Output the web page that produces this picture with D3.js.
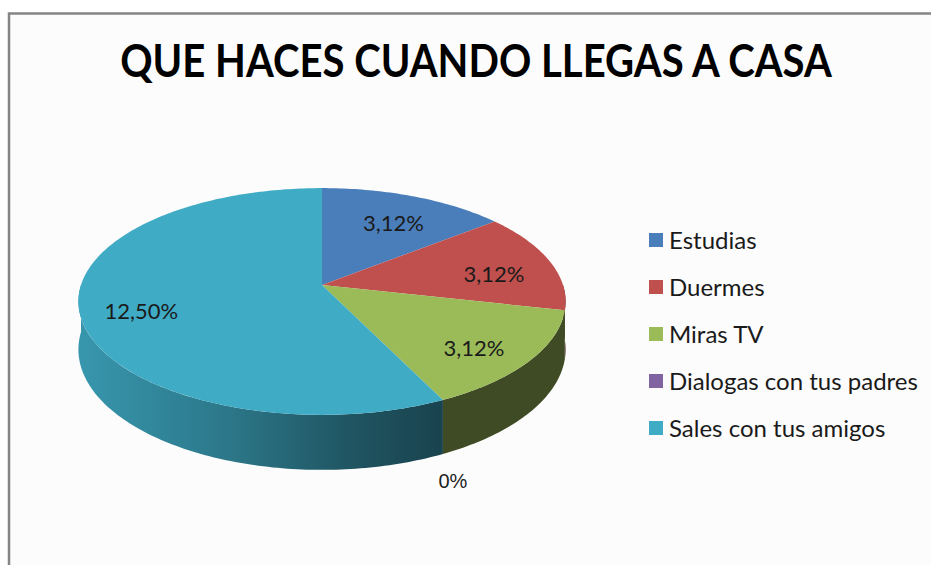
<!DOCTYPE html>
<html>
<head>
<meta charset="utf-8">
<script src="https://cdn.jsdelivr.net/npm/d3@7"></script>
<style>
  body { margin: 0; background: #ffffff; }
  svg { display: block; }
</style>
</head>
<body>
<div id="chart"></div>
<script>
const width = 931, height = 565;

// data
const categories = ['Estudias', 'Duermes', 'Miras TV', 'Dialogas con tus padres', 'Sales con tus amigos'];
const values = [3.12, 3.12, 3.12, 0, 12.50];
const colors = ['#4A7EBB', '#C0504D', '#9BBB59', '#8064A2', '#3FABC5'];
const title = 'QUE HACES CUANDO LLEGAS A CASA';

// pie geometry (perspective tilted disc)
const cx = 322, cy = 285;
const R = 241, k = 111, D = 6.88, depth = 47;

function proj(a, r, dz) {
    let X = Math.sin(a) * r, Z = Math.cos(a) * r;
    let s = D / (D + Z);
    return [cx + R * X * s, cy - k * Z * s + depth * s * dz];
}

function arcPoints(a0, a1, r, dz) {
    const pts = [];
    const n = Math.max(2, Math.ceil(Math.abs(a1 - a0) / (Math.PI / 180)));
    for (let i = 0; i <= n; i++) pts.push(proj(a0 + (a1 - a0) * i / n, r, dz));
    return pts;
}

const line = d3.line();

const svg = d3.select('#chart').append('svg')
    .attr('width', width)
    .attr('height', height);

const defs = svg.append('defs');

// chart area with frame
svg.append('rect')
    .attr('x', 9).attr('y', 13.5)
    .attr('width', width + 20).attr('height', height)
    .attr('fill', '#fcfcfc')
    .attr('stroke', '#858585')
    .attr('stroke-width', 2.5);

// title, squeezed horizontally to the condensed look of the original
const titleText = svg.append('text')
    .attr('x', 0).attr('y', 0)
    .attr('text-anchor', 'middle')
    .attr('font-family', 'Lato, "Open Sans", sans-serif')
    .attr('font-weight', 'bold')
    .attr('font-size', 46)
    .attr('fill', '#000')
    .text(title);
const natural = titleText.node().getComputedTextLength();
titleText.attr('transform', 'translate(476,77) scale(' + (712 / natural) + ',1)');

const pie = d3.pie().sort(null).value(d => d)(values);

// side shading: lighter on the left, dark to the right
pie.forEach((d, i) => {
    const g = defs.append('linearGradient')
        .attr('id', 'side' + i)
        .attr('gradientUnits', 'userSpaceOnUse')
        .attr('x1', cx - R).attr('x2', cx + R)
        .attr('y1', 0).attr('y2', 0);
    const base = d3.rgb(colors[i]);
    [[0, 0.88], [0.3, 0.7], [0.55, 0.5], [0.74, 0.4], [1, 0.4]].forEach(([o, f]) => {
        g.append('stop')
            .attr('offset', o)
            .attr('stop-color', d3.rgb(base.r * f, base.g * f, base.b * f));
    });
});

const gPie = svg.append('g');

// front walls (visible half only)
pie.forEach((d, i) => {
    const a0 = Math.max(d.startAngle, Math.PI / 2);
    const a1 = Math.min(d.endAngle, Math.PI * 1.5);
    if (a1 <= a0) return;
    const pts = arcPoints(a0, a1, 1, 0).concat(arcPoints(a1, a0, 1, 1));
    gPie.append('path')
        .attr('d', line(pts) + 'Z')
        .attr('fill', 'url(#side' + i + ')');
});

// top faces
pie.forEach((d, i) => {
    if (d.endAngle - d.startAngle <= 0) return;
    const pts = [proj(0, 0, 0)].concat(arcPoints(d.startAngle, d.endAngle, 1, 0));
    gPie.append('path')
        .attr('d', line(pts) + 'Z')
        .attr('fill', colors[i]);
});

// data labels
const fmt = v => v === 0 ? '0%' : d3.format('.2f')(v).replace('.', ',') + '%';
pie.forEach((d, i) => {
    const mid = (d.startAngle + d.endAngle) / 2;
    if (d.value === 0) {
        const p = proj(mid, 1, 1);
        gPie.append('text')
            .attr('x', p[0] + 10).attr('y', p[1] + 34)
            .attr('text-anchor', 'middle')
            .attr('font-family', '"Liberation Sans Narrow", "Liberation Sans", sans-serif')
            .attr('font-size', 20)
            .attr('fill', '#222')
            .text(fmt(d.value));
        return;
    }
    const p = proj(mid, 0.75, 0.15);
    gPie.append('text')
        .attr('x', p[0]).attr('y', p[1] + 8)
        .attr('text-anchor', 'middle')
        .attr('font-family', 'Lato, "Open Sans", sans-serif')
        .attr('font-size', 22)
        .attr('fill', '#1a1a1a')
        .text(fmt(d.value));
});

// legend
const ly = d3.scalePoint().domain(categories).range([240, 428]);
const legend = svg.append('g');
categories.forEach((c, i) => {
    legend.append('rect')
        .attr('x', 649).attr('y', ly(c) - 7)
        .attr('width', 14).attr('height', 14)
        .attr('fill', colors[i]);
    legend.append('text')
        .attr('x', 669).attr('y', ly(c) + 8.5)
        .attr('font-family', 'Lato, "Open Sans", sans-serif')
        .attr('font-size', 24)
        .attr('fill', '#1a1a1a')
        .text(c);
});
</script>
</body>
</html>
